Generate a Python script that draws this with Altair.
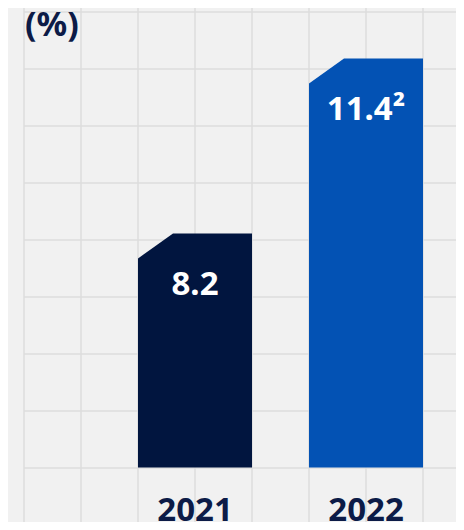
import altair as alt
import pandas as pd

# ---- data ----
YEARS = [2021, 2022]
VALUES = [8.2, 11.4]
VALUE_LABELS = ["8.2", "11.4\u00b2"]
BAR_COLORS = ["#01153f", "#0352b4"]
UNIT_LABEL = "(%)"

# ---- layout / style ----
W, H = 432, 514
PX_PER_YEAR = 171.0
PX_PER_UNIT = 54.69
GRID_PX = 57.0
BASE = 3.92
BASE_PX = 459.5
Y0 = BASE - (H - BASE_PX) / PX_PER_UNIT
Y1 = Y0 + H / PX_PER_UNIT
X0 = 2020.0
X1 = X0 + W / PX_PER_YEAR
HALF = GRID_PX / PX_PER_YEAR
CW = 35 / PX_PER_YEAR
CH = 25 / PX_PER_UNIT

NAVY = "#0c1b47"
BG = "#f1f1f1"
GRID = "#dddddd"
FONT = "Noto Sans"

x_grid = [X0 + k * HALF for k in range(0, 9) if X0 + k * HALF <= X1]
y_top_grid = Y1 - 4 / PX_PER_UNIT
y_grid = [y_top_grid - k * GRID_PX / PX_PER_UNIT for k in range(0, 11)
          if y_top_grid - k * GRID_PX / PX_PER_UNIT >= Y0]

rows = []
for yr, v in zip(YEARS, VALUES):
    rows.append({"year": str(yr), "x": yr - HALF, "y": v - CH, "base": BASE})
    rows.append({"year": str(yr), "x": yr - HALF + CW, "y": v, "base": BASE})
    rows.append({"year": str(yr), "x": yr + HALF, "y": v, "base": BASE})
poly = pd.DataFrame(rows)
lab = pd.DataFrame({"year": YEARS, "value": VALUES, "label": VALUE_LABELS})

xs = alt.Scale(domain=[X0, X1], nice=False, zero=False)
ys = alt.Scale(domain=[Y0, Y1], nice=False, zero=False)

vgrid = alt.Chart(pd.DataFrame({"gx": x_grid})).mark_rule(
    color=GRID, strokeWidth=1.5
).encode(x=alt.X("gx:Q", scale=xs, axis=None))

hgrid = alt.Chart(pd.DataFrame({"gy": y_grid})).mark_rule(
    color=GRID, strokeWidth=1.5
).encode(y=alt.Y("gy:Q", scale=ys, axis=None))

bars = alt.Chart(poly).mark_area().encode(
    x=alt.X("x:Q", scale=xs, axis=None),
    y=alt.Y("y:Q", scale=ys, axis=None),
    y2="base:Q",
    color=alt.Color("year:N", scale=alt.Scale(domain=[str(y) for y in YEARS], range=BAR_COLORS), legend=None),
)

labels = alt.Chart(lab).mark_text(
    color="white", font=FONT, fontSize=33, fontWeight="bold",
    align="center", baseline="middle", dy=52,
).encode(
    x=alt.X("year:Q", scale=xs, axis=None),
    y=alt.Y("value:Q", scale=ys, axis=None),
    text="label:N",
)

years = alt.Chart(lab).mark_text(
    color=NAVY, font=FONT, fontSize=33, fontWeight="bold",
    align="center", baseline="alphabetic",
).encode(
    x=alt.X("year:Q", scale=xs, axis=None),
    y=alt.value(513),
    text=alt.Text("year:Q", format="d"),
)

unit = alt.Chart(pd.DataFrame({"t": [UNIT_LABEL]})).mark_text(
    color=NAVY, font=FONT, fontSize=34, fontWeight="bold",
    align="left", baseline="middle",
).encode(x=alt.value(1), y=alt.value(18), text="t:N")

PAGE_CSS = "body{background:#f1f1f1;}"

chart = alt.layer(vgrid, hgrid, bars, labels, years, unit).properties(
    width=W, height=H,
    autosize=alt.AutoSizeParams(type="none"),
    padding={"left": 16, "top": 0, "right": 0, "bottom": 0},
    background=BG,
    usermeta={"embedOptions": {"defaultStyle": PAGE_CSS}},
).configure_view(stroke=None)

chart.save("out.html", embed_options={"renderer": "svg", "actions": False})
